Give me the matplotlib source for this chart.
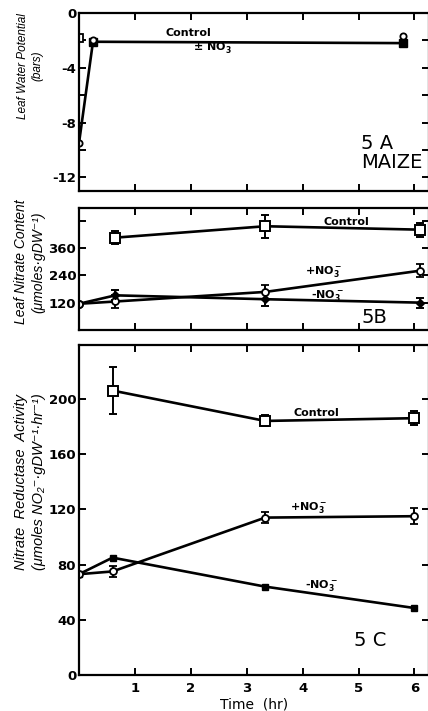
import matplotlib
matplotlib.use('Agg')
from matplotlib import pyplot as plt
from matplotlib.ticker import MultipleLocator

font = {'family': 'DejaVu Sans', 'weight': 'bold', 'size': 9}
matplotlib.rc('font', **font)

# ---- data ----
# 5A leaf water potential (bars)
t_a = [0, 0.25, 5.8]
wp_control = [-1.8, -2.1, -2.2]
wp_no3 = [-9.5, -2.0, -1.7]

# 5B leaf nitrate content (umol / gDW)
t_b = [0, 0.65, 3.33, 6.1]
nc_control = [None, 405, 455, 440]
nc_control_err = [0, 30, 50, 30]
nc_plus = [115, 125, 167, 260]
nc_plus_err = [0, 30, 32, 28]
nc_minus = [115, 152, 135, 120]
nc_minus_err = [0, 22, 30, 22]

# 5C nitrate reductase activity (umol NO2- / gDW / hr)
t_c = [0, 0.6, 3.33, 6.0]
nr_control = [None, 206, 184, 186]
nr_control_err = [0, 17, 4, 5]
nr_plus = [73, 75, 114, 115]
nr_plus_err = [0, 4, 4, 6]
nr_minus = [73, 85, 64, 48.5]

x_ticks = [0, 1, 2, 3, 4, 5, 6]
x_ticklabels = ['', '1', '2', '3', '4', '5', '6']

fig = plt.figure(figsize=(4.28, 7.11), dpi=100)
left, width = 79 / 428, 350 / 428
ax_a = fig.add_axes([left, 1 - 191 / 711, width, 178 / 711])
ax_b = fig.add_axes([left, 1 - 330 / 711, width, 122 / 711])
ax_c = fig.add_axes([left, 1 - 675 / 711, width, 330 / 711])

lw = 1.9
for ax in (ax_a, ax_b, ax_c):
    ax.set_xlim(0, 6.26)
    ax.set_xticks(x_ticks)
    ax.tick_params(direction='in', top=True, right=True, length=5, width=1.4,
                   pad=2, labelsize=9.5)
    ax.tick_params(which='minor', direction='in', top=True, right=True,
                   length=5, width=1.4)
    for s in ax.spines.values():
        s.set_linewidth(1.6)
    ax.set_xticklabels([])

# ---- 5A ----
ax_a.set_ylim(-13, 0)
ax_a.set_yticks([0, -4, -8, -12])
ax_a.set_yticklabels(['0', '-4', '-8', '-12'])
ax_a.yaxis.set_minor_locator(MultipleLocator(2))
ax_a.plot([t_a[0]] + t_a[1:], [wp_no3[0]] + wp_control[1:], 'k-', lw=lw)
ax_a.plot(t_a[:1], wp_control[:1], 's', mfc='white', mec='k', ms=6, mew=1.3)
ax_a.plot(t_a[1:], wp_control[1:], 's', mfc='k', mec='k', ms=6)
ax_a.plot(t_a, wp_no3, 'o', mfc='white', mec='k', ms=4.5, mew=1.3)
ax_a.text(1.95, -1.45, 'Control', ha='center', va='center', fontsize=8)
ax_a.text(2.4, -2.55, r'$\pm$ NO$_3^-$', ha='center', va='center', fontsize=8)
ax_a.text(5.04, -10.2, '5 A\nMAIZE', ha='left', va='center', fontsize=14,
          fontweight='normal', linespacing=1.0)

# ---- 5B ----
ax_b.set_ylim(0, 535)
ax_b.set_yticks([120, 240, 360, 480])
ax_b.set_yticklabels(['120', '240', '360', ''])
ax_b.errorbar(t_b[1:], nc_control[1:], yerr=nc_control_err[1:], fmt='s-',
              color='k', mfc='white', mec='k', ms=7, mew=1.4, lw=lw,
              capsize=3, elinewidth=1.4, capthick=1.4)
ax_b.errorbar(t_b, nc_plus, yerr=nc_plus_err, fmt='o-', color='k',
              mfc='white', mec='k', ms=5, mew=1.3, lw=lw, capsize=3,
              elinewidth=1.4, capthick=1.4)
ax_b.errorbar(t_b[1:], nc_minus[1:], yerr=nc_minus_err[1:], fmt='D',
              color='k', ms=4, lw=lw, capsize=3, elinewidth=1.4, capthick=1.4)
ax_b.plot(t_b, nc_minus, 'k-', lw=lw)
ax_b.plot(t_b[:1], nc_plus[:1], 'o', mfc='white', mec='k', ms=5, mew=1.3)
ax_b.text(4.78, 473, 'Control', ha='center', va='center', fontsize=8)
ax_b.text(4.37, 255, r'+NO$_3^-$', ha='center', va='center', fontsize=8)
ax_b.text(4.45, 150, r'-NO$_3^-$', ha='center', va='center', fontsize=8)
ax_b.text(5.28, 55, '5B', ha='center', va='center', fontsize=14,
          fontweight='normal')

# ---- 5C ----
ax_c.set_ylim(0, 239)
ax_c.set_yticks([0, 40, 80, 120, 160, 200])
ax_c.set_xticklabels(x_ticklabels)
ax_c.tick_params(axis='x', pad=5)
ax_c.errorbar(t_c[1:], nr_control[1:], yerr=nr_control_err[1:], fmt='s-',
              color='k', mfc='white', mec='k', ms=7, mew=1.4, lw=lw,
              capsize=3, elinewidth=1.4, capthick=1.4)
ax_c.plot(t_c, nr_minus, 'ks-', ms=4, lw=lw)
ax_c.errorbar(t_c, nr_plus, yerr=nr_plus_err, fmt='o-', color='k',
              mfc='white', mec='k', ms=5, mew=1.3, lw=lw, capsize=3,
              elinewidth=1.4, capthick=1.4)
ax_c.text(4.25, 190, 'Control', ha='center', va='center', fontsize=8)
ax_c.text(4.1, 121, r'+NO$_3^-$', ha='center', va='center', fontsize=8)
ax_c.text(4.34, 65, r'-NO$_3^-$', ha='center', va='center', fontsize=8)
ax_c.text(5.2, 25, '5 C', ha='center', va='center', fontsize=14,
          fontweight='normal')
ax_c.set_xlabel('Time  (hr)', fontsize=10, fontweight='normal', labelpad=2)

# ---- y labels ----
lab = dict(rotation='vertical', ha='center', va='center', style='italic',
           fontweight='normal', linespacing=1.3,
           family=['Liberation Sans', 'DejaVu Sans'])
fig.text(30 / 428, 1 - 66 / 711, 'Leaf Water Potential\n(bars)',
         fontsize=8.5, **lab)
fig.text(30 / 428, 1 - 262 / 711, 'Leaf Nitrate Content\n(μmoles·gDW⁻¹)',
         fontsize=10, **lab)
fig.text(30 / 428, 1 - 482 / 711,
         'Nitrate  Reductase  Activity\n(μmoles NO₂⁻·gDW⁻¹·hr⁻¹)',
         fontsize=10.5, **lab)

plt.savefig('out.png', dpi=100)
